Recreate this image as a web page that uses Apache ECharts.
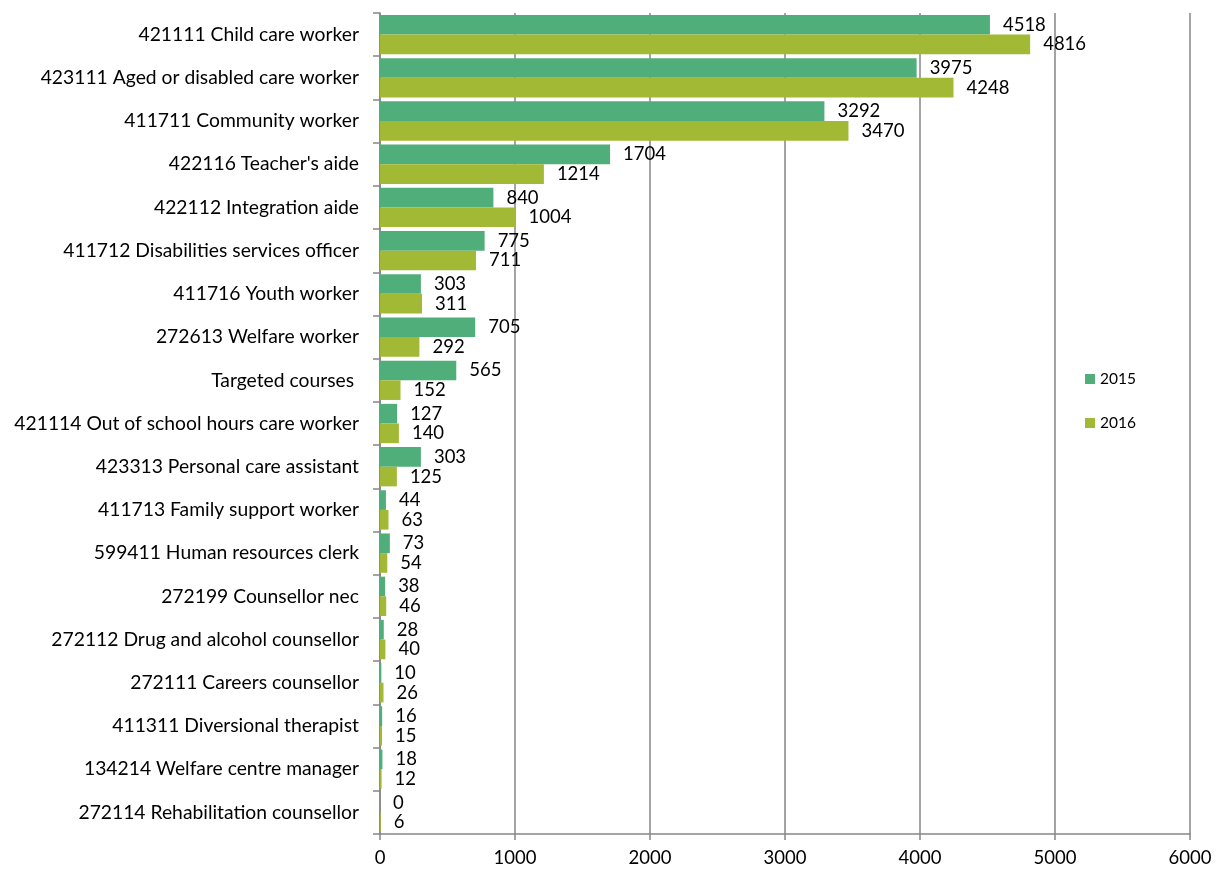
<!DOCTYPE html>
<html>
<head>
<meta charset="utf-8">
<script src="https://cdn.jsdelivr.net/npm/echarts@6/dist/echarts.min.js"></script>
<style>
  html, body { margin: 0; padding: 0; background: #ffffff; }
  #chart { width: 1226px; height: 870px; }
</style>
</head>
<body>
<div id="chart"></div>
<script>
// Occupations, listed top to bottom
const categories = [
  "421111 Child care worker",
  "423111 Aged or disabled care worker",
  "411711 Community worker",
  "422116 Teacher's aide",
  "422112 Integration aide",
  "411712 Disabilities services officer",
  "411716 Youth worker",
  "272613 Welfare worker",
  "Targeted courses ",
  "421114 Out of school hours care worker",
  "423313 Personal care assistant",
  "411713 Family support worker",
  "599411 Human resources clerk",
  "272199 Counsellor nec",
  "272112 Drug and alcohol counsellor",
  "272111 Careers counsellor",
  "411311 Diversional therapist",
  "134214 Welfare centre manager",
  "272114 Rehabilitation counsellor"
];

const values2015 = [4518, 3975, 3292, 1704, 840, 775, 303, 705, 565, 127, 303, 44, 73, 38, 28, 10, 16, 18, 0];
const values2016 = [4816, 4248, 3470, 1214, 1004, 711, 311, 292, 152, 140, 125, 63, 54, 46, 40, 26, 15, 12, 6];

const xTicks = { min: 0, max: 6000, interval: 1000 };

const FONT = "Lato";
const chart = echarts.init(document.getElementById('chart'), null, { renderer: 'canvas' });

const labelStyle = {
  show: true,
  position: 'right',
  distance: 13,
  color: '#000000',
  fontFamily: FONT,
  fontSize: 18.5
};

chart.setOption({
  animation: false,
  textStyle: { fontFamily: FONT },
  grid: { left: 380, right: 36, top: 13, bottom: 36, containLabel: false },
  legend: {
    orient: 'vertical',
    left: 1080,
    top: 366,
    itemWidth: 10,
    itemHeight: 10,
    itemGap: 28,
    icon: 'rect',
    textStyle: { fontFamily: FONT, fontSize: 15.5, color: '#000000' },
    data: ['2015', '2016']
  },
  xAxis: {
    type: 'value',
    min: xTicks.min,
    max: xTicks.max,
    interval: xTicks.interval,
    axisLine: { show: true, lineStyle: { color: '#868686', width: 1.5 } },
    axisTick: { show: true, length: 6, lineStyle: { color: '#868686', width: 1.5 } },
    splitLine: { show: true, lineStyle: { color: '#868686', width: 1.5 } },
    axisLabel: {
      color: '#000000', fontFamily: FONT, fontSize: 18.5, margin: 15,
      formatter: v => String(v)
    }
  },
  yAxis: {
    type: 'category',
    inverse: true,
    data: categories,
    axisLine: { show: true, lineStyle: { color: '#868686', width: 1.5 } },
    axisTick: { show: true, length: 7, alignWithLabel: false, lineStyle: { color: '#868686', width: 1.5 } },
    axisLabel: { color: '#000000', fontFamily: FONT, fontSize: 19.3, margin: 21 }
  },
  series: [
    {
      name: '2015',
      type: 'bar',
      data: values2015,
      barGap: '0%',
      barCategoryGap: '9%',
      itemStyle: { color: '#50AE7A' },
      label: labelStyle
    },
    {
      name: '2016',
      type: 'bar',
      data: values2016,
      barGap: '0%',
      barCategoryGap: '9%',
      itemStyle: { color: '#A2B935' },
      label: labelStyle
    }
  ]
});
</script>
</body>
</html>
